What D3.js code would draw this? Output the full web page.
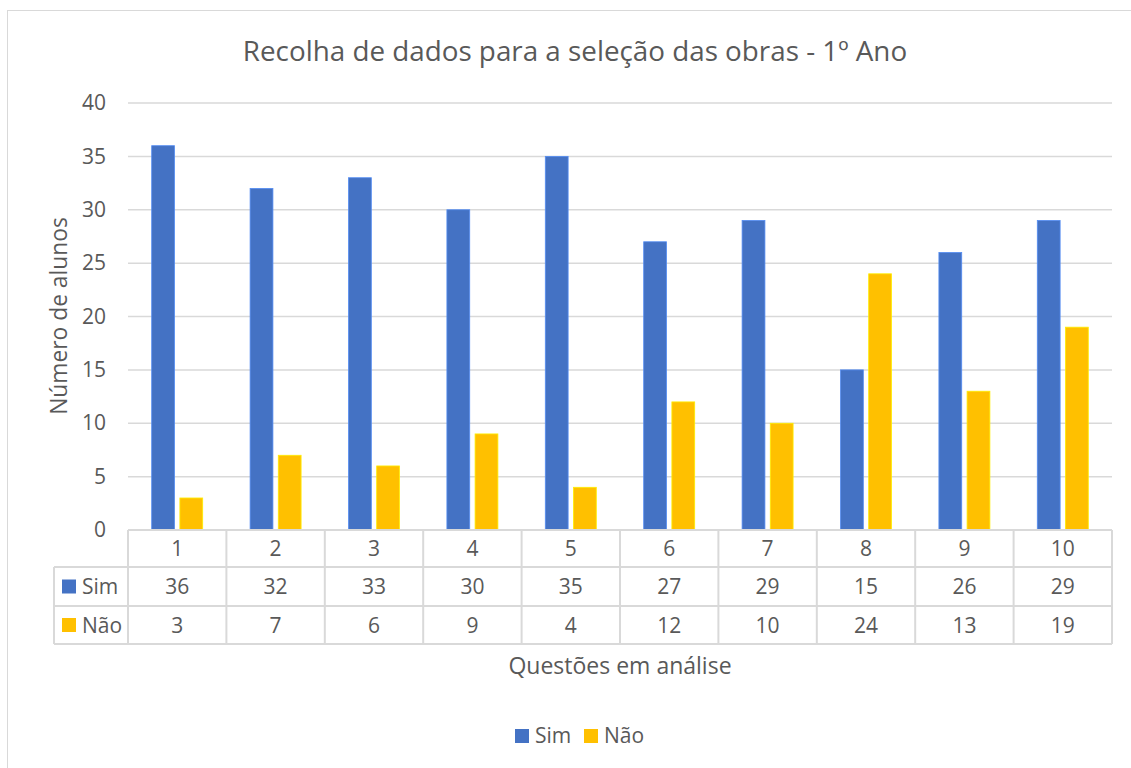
<!DOCTYPE html>
<html>
<head>
<meta charset="utf-8">
<script src="https://cdn.jsdelivr.net/npm/d3@7"></script>
<style>
  body { margin: 0; background: #fff; }
  svg text { font-family: "Open Sans", sans-serif; fill: #595959; }
</style>
</head>
<body>
<script>
// chart data
var categories = ["1", "2", "3", "4", "5", "6", "7", "8", "9", "10"];
var seriesNames = ["Sim", "Não"];
var simValues = [36, 32, 33, 30, 35, 27, 29, 15, 26, 29];
var naoValues = [3, 7, 6, 9, 4, 12, 10, 24, 13, 19];
var yTicks = [0, 5, 10, 15, 20, 25, 30, 35, 40];
var colors = ["#4472C4", "#FFC000"];

var chartTitle = "Recolha de dados para a seleção das obras - 1º Ano";
var yTitle = "Número de alunos";
var xTitle = "Questões em análise";

var allValues = [simValues, naoValues];

var width = 1131, height = 768;
var margin = { top: 103, right: 19, bottom: 238, left: 128 };
var plotW = width - margin.left - margin.right,
    plotH = height - margin.top - margin.bottom;
var rowH = [37, 39, 38];
var legendColX = 54;
var gridColor = "#d9d9d9";

var svg = d3.select("body").append("svg")
  .attr("width", width)
  .attr("height", height);

// chart border
svg.append("rect")
  .attr("x", 7.5).attr("y", 10.5)
  .attr("width", width).attr("height", height)
  .attr("fill", "none")
  .attr("stroke", gridColor);

// title
svg.append("text")
  .attr("x", 575).attr("y", 61)
  .attr("text-anchor", "middle")
  .style("font-size", "27.8px")
  .text(chartTitle);

var g = svg.append("g")
  .attr("transform", "translate(" + margin.left + "," + margin.top + ")");

// scales
var x = d3.scaleBand().domain(categories).range([0, plotW]);
var y = d3.scaleLinear().domain([0, 40]).range([plotH, 0]);
var groupW = 51;
var xs = d3.scaleBand().domain(seriesNames).range([0, groupW]).paddingInner(0.19);

// grid lines
g.append("g").selectAll("line")
  .data(yTicks.filter(function (d) { return d > 0; }))
  .enter().append("line")
  .attr("x1", 0).attr("x2", plotW)
  .attr("y1", function (d) { return y(d); })
  .attr("y2", function (d) { return y(d); })
  .attr("stroke", gridColor)
  .attr("stroke-width", 1.5);

// Y axis labels
var yAxis = g.append("g")
  .call(d3.axisLeft(y).tickValues(yTicks).tickSize(0).tickPadding(22));
yAxis.select(".domain").remove();
yAxis.selectAll("text")
  .style("font-size", "21px")
  .style("font-family", "'Open Sans', sans-serif")
  .attr("fill", "#595959");

// bars
seriesNames.forEach(function (s, si) {
  g.append("g").selectAll("rect")
    .data(allValues[si])
    .enter().append("rect")
    .attr("x", function (d, i) {
      return x(categories[i]) + (x.bandwidth() - groupW) / 2 + xs(s);
    })
    .attr("y", function (d) { return y(d); })
    .attr("width", xs.bandwidth())
    .attr("height", function (d) { return plotH - y(d); })
    .attr("fill", colors[si])
    .attr("stroke", d3.color(colors[si]).brighter(0.6))
    .attr("stroke-width", 0.8);
});

// data table
var tbl = g.append("g").attr("transform", "translate(0," + plotH + ")");
var rowY = [0, rowH[0], rowH[0] + rowH[1], rowH[0] + rowH[1] + rowH[2]];
var lx = legendColX - margin.left;

// horizontal lines
tbl.selectAll(".hl")
  .data(rowY)
  .enter().append("line")
  .attr("x1", function (d, i) { return i === 0 ? 0 : lx; })
  .attr("x2", plotW)
  .attr("y1", function (d) { return d; })
  .attr("y2", function (d) { return d; })
  .attr("stroke", gridColor)
  .attr("stroke-width", 2);

// vertical lines
var vx = categories.map(function (c) { return x(c); }).concat([plotW]);
tbl.selectAll(".vl")
  .data(vx)
  .enter().append("line")
  .attr("x1", function (d) { return d; })
  .attr("x2", function (d) { return d; })
  .attr("y1", 0).attr("y2", rowY[3])
  .attr("stroke", gridColor)
  .attr("stroke-width", 2);
tbl.append("line")
  .attr("x1", lx).attr("x2", lx)
  .attr("y1", rowY[1]).attr("y2", rowY[3])
  .attr("stroke", gridColor)
  .attr("stroke-width", 2);

// category row
tbl.selectAll(".cat")
  .data(categories)
  .enter().append("text")
  .attr("x", function (d) { return x(d) + x.bandwidth() / 2; })
  .attr("y", rowY[0] + rowH[0] / 2 + 7.5)
  .attr("text-anchor", "middle")
  .style("font-size", "21px")
  .text(function (d) { return d; });

// value rows
seriesNames.forEach(function (s, si) {
  var yMid = rowY[si + 1] + rowH[si + 1] / 2;
  tbl.append("g").selectAll("text")
    .data(allValues[si])
    .enter().append("text")
    .attr("x", function (d, i) { return x(categories[i]) + x.bandwidth() / 2; })
    .attr("y", yMid + 7.5)
    .attr("text-anchor", "middle")
    .style("font-size", "21px")
    .text(function (d) { return d; });
  tbl.append("rect")
    .attr("x", lx + 8).attr("y", yMid - 7)
    .attr("width", 14).attr("height", 14)
    .attr("fill", colors[si]);
  tbl.append("text")
    .attr("x", lx + 28).attr("y", yMid + 7.5)
    .style("font-size", "21px")
    .text(s);
});

// axis titles
svg.append("text")
  .attr("transform", "translate(67,316) rotate(-90)")
  .attr("text-anchor", "middle")
  .style("font-size", "22.8px")
  .text(yTitle);

svg.append("text")
  .attr("x", 620).attr("y", 674)
  .attr("text-anchor", "middle")
  .style("font-size", "23px")
  .text(xTitle);

// legend
var legendX = [515, 584];
var leg = svg.append("g");
seriesNames.forEach(function (s, si) {
  leg.append("rect")
    .attr("x", legendX[si]).attr("y", 729)
    .attr("width", 14).attr("height", 14)
    .attr("fill", colors[si]);
  leg.append("text")
    .attr("x", legendX[si] + 20).attr("y", 743)
    .style("font-size", "21px")
    .text(s);
});
</script>
</body>
</html>
